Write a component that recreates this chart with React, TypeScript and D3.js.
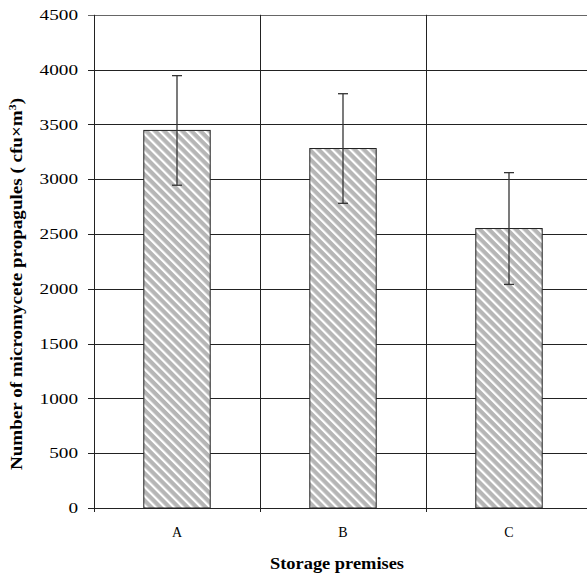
import React from "react";
import * as d3 from "d3";

const categories = ["A", "B", "C"];
const values = [3445, 3280, 2550];
const errors = [500, 500, 510];
const yTicks = [0, 500, 1000, 1500, 2000, 2500, 3000, 3500, 4000, 4500];

const W = 587;
const H = 574;
const left = 94;
const right = 592;
const top = 14.8;
const bottom = 508;

export default function App() {
  const x = d3.scaleBand<string>().domain(categories).range([left, right]).paddingInner(0).paddingOuter(0);
  const y = d3.scaleLinear().domain([0, 4500]).range([bottom, top]);
  const bw = x.bandwidth();
  const barW = bw * 0.4;
  const font = "'Liberation Serif', 'Times New Roman', serif";
  return (
    <svg width={W} height={H} style={{ position: "absolute", left: 0, top: 0, background: "#fff" }}>
      <defs>
        <pattern id="stripes" patternUnits="userSpaceOnUse" width={6.4} height={6.4} patternTransform="rotate(-45)">
          <rect width={6.4} height={6.4} fill="#b6b6b6" />
          <rect x={0} y={0} width={2.2} height={6.4} fill="#ffffff" />
        </pattern>
      </defs>
      {yTicks.map((t) => (
        <g key={t}>
          <line x1={left - 6} x2={right} y1={Math.round(y(t)) + 0.5} y2={Math.round(y(t)) + 0.5} stroke={t === 4500 ? "#666" : "#222"} strokeWidth={1} />
          <text x={78} y={y(t)} dy="0.35em" textAnchor="end" fontFamily={font} fontSize={15} fill="#000"
            textLength={String(t).length * 9.6} lengthAdjust="spacingAndGlyphs">{t}</text>
        </g>
      ))}
      {categories.map((c) => (
        <line key={c} x1={Math.round(x(c)!) + 0.5} x2={Math.round(x(c)!) + 0.5} y1={top} y2={bottom + 4} stroke="#222" strokeWidth={1} />
      ))}
      {categories.map((c, i) => {
        const cx = x(c)! + bw / 2;
        return (
          <g key={c}>
            <rect x={cx - barW / 2} y={y(values[i])} width={barW} height={bottom - y(values[i])} fill="url(#stripes)" stroke="#222" strokeWidth={1} />
            <line x1={cx} x2={cx} y1={y(values[i] + errors[i])} y2={y(values[i] - errors[i])} stroke="#333" strokeWidth={1.3} />
            <line x1={cx - 5} x2={cx + 5} y1={y(values[i] + errors[i])} y2={y(values[i] + errors[i])} stroke="#333" strokeWidth={1.3} />
            <line x1={cx - 5} x2={cx + 5} y1={y(values[i] - errors[i])} y2={y(values[i] - errors[i])} stroke="#333" strokeWidth={1.3} />
            <text x={cx} y={532} dy="0.35em" textAnchor="middle" fontFamily={font} fontSize={14} fill="#000">{c}</text>
          </g>
        );
      })}
      <line x1={left - 6} x2={right} y1={bottom + 0.5} y2={bottom + 0.5} stroke="#222" strokeWidth={1} />
      <text x={337} y={563} dy="0.35em" textAnchor="middle" fontFamily={font} fontWeight="bold" fontSize={16} fill="#000"
        textLength={134} lengthAdjust="spacingAndGlyphs">Storage premises</text>
      <text transform="translate(16,284) rotate(-90)" textAnchor="middle" dy="0.35em" fontFamily={font} fontWeight="bold" fontSize={16} fill="#000"
        textLength={372} lengthAdjust="spacingAndGlyphs">
        Number of micromycete propagules ( cfu×m<tspan dy="-6" fontSize={10}>3</tspan><tspan dy="6">)</tspan>
      </text>
    </svg>
  );
}
